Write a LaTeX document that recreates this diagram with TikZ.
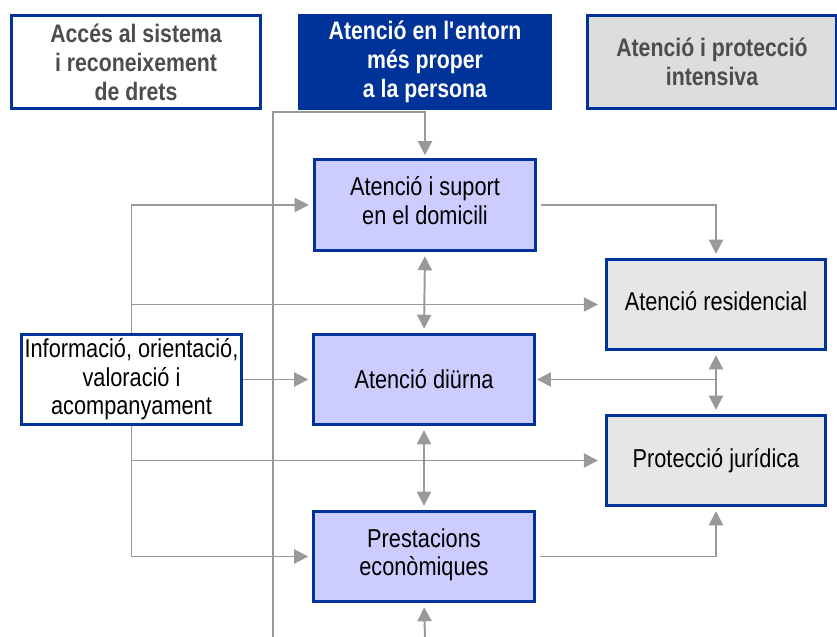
\documentclass[tikz,border=0pt]{standalone}
\usepackage{fontspec}
\setmainfont[FakeStretch=0.84]{Liberation Sans}
\usetikzlibrary{arrows.meta}
\definecolor{marc}{HTML}{003399}
\definecolor{lila}{HTML}{CCCCFF}
\definecolor{gris}{HTML}{E6E6E6}
\definecolor{grisfosc}{HTML}{DDDDDD}
\definecolor{fletxa}{HTML}{999999}
\definecolor{titol}{HTML}{4D4D4D}
\tikzset{
  caixa/.style={draw=marc,line width=2.1pt,align=center,inner sep=0pt,font=\fontsize{18.4}{20.3}\selectfont},
  capcal/.style={caixa,minimum width=6.2cm,minimum height=2.325cm,font=\bfseries\fontsize{18}{20.6}\selectfont},
  servei/.style={caixa,fill=lila,minimum width=5.5cm,minimum height=2.25cm},
  intens/.style={caixa,fill=gris,minimum width=5.475cm,minimum height=2.25cm},
  punta/.tip={Triangle[length=10pt,width=10pt]},
  fl/.style={draw=fletxa,line width=1.4pt,-punta},
  dfl/.style={fl,punta-punta},
}
\begin{document}
\begin{tikzpicture}[x=0.025cm,y=-0.025cm]
    \useasboundingbox (0,0) rectangle (837,637);
    % capcaleres
    \node[capcal,fill=white,text=titol] (acc) at (136,62) {Accés al sistema\\i reconeixement\\de drets};
    \node[capcal,fill=marc,text=white,minimum width=6.25cm] (ent) at (425,62) {Atenció en l\textquotesingle entorn\\més proper\\a la persona};
    \node[capcal,fill=grisfosc,text=titol] (int) at (712,62) {Atenció i protecció\\intensiva};
    % serveis
    \node[servei,minimum width=5.525cm,minimum height=2.275cm] (dom) at (425,205) {Atenció i suport\\en el domicili\strut};
    \node[servei] (diu) at (424,379.5) {Atenció diürna};
    \node[servei] (pre) at (424,556.5) {Prestacions\\econòmiques\strut};
    \node[intens] (res) at (716,304.5) {Atenció residencial\strut};
    \node[intens] (jur) at (716,460.5) {Protecció jurídica};
    \node[caixa,fill=white,minimum width=5.5cm,minimum height=2.25cm] (inf) at (131.5,379.5) {Informació, orientació,\\valoració i\\acompanyament};
    \coordinate (peu) at (273,637);
    \coordinate (colze) at (273,112);
    \coordinate (baix) at (425,637);
    % connexions
    \draw[fl,shorten >=2pt] (peu) -- (colze) -| (dom.north);
    \draw[fl,shorten >=3pt] (baix) -- (pre.south);
    \draw[fl,shorten >=3pt] (inf.north) |- (dom.west);
    \draw[fl,shorten >=5pt] (inf.north |- res.west) -- (res.west);
    \draw[fl,shorten >=3pt] (inf.east) -- (diu.west);
    \draw[fl,shorten >=3pt] (inf.south) |- (pre.west);
    \draw[fl,shorten >=5pt] (inf.south |- jur.west) -- (jur.west);
    \draw[dfl,shorten <=3pt,shorten >=3pt] (dom.south) -- (diu.north);
    \draw[dfl,shorten <=3pt,shorten >=3pt] (diu.south) -- (pre.north);
    \draw[fl,shorten <=3pt,shorten >=3pt] (dom.east) -| (res.north);
    \draw[dfl,shorten <=3pt,shorten >=3pt] (res.south) -- (jur.north);
    \draw[fl,shorten >=1pt] (jur.north |- diu.east) -- (diu.east);
    \draw[fl,shorten <=3pt,shorten >=3pt] (pre.east) -| (jur.south);
\end{tikzpicture}
\end{document}
